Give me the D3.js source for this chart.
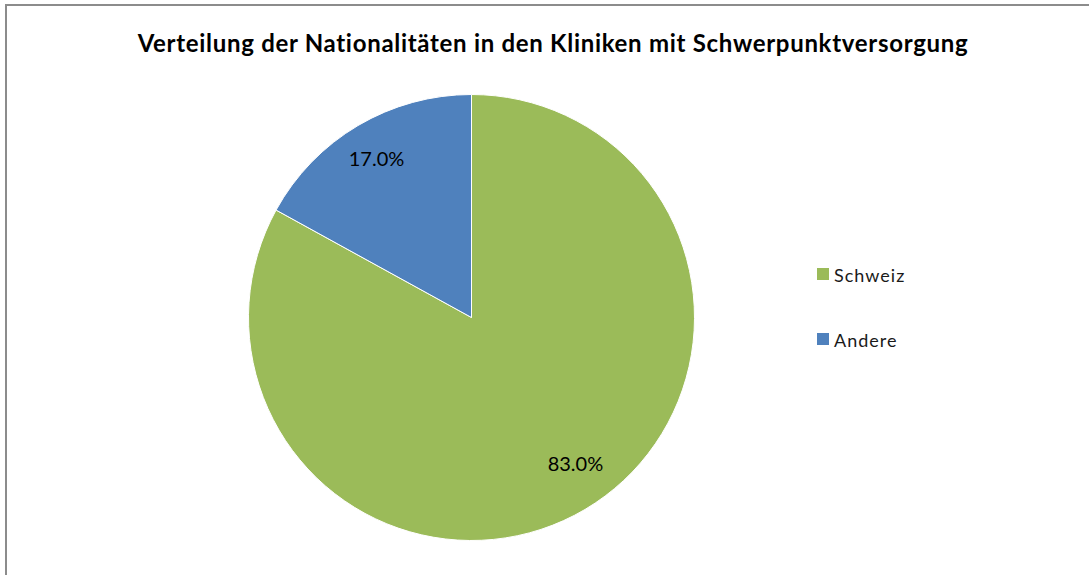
<!DOCTYPE html>
<html>
<head>
<meta charset="utf-8">
<script src="https://cdn.jsdelivr.net/npm/d3@7"></script>
<style>
  html, body { margin: 0; padding: 0; background: #fff; }
  svg { display: block; }
</style>
</head>
<body>
<svg id="chart" width="1089" height="575"></svg>
<script>
// Anteil der Patienten nach Nationalität
const categories = ["Schweiz", "Andere"];
const shares = [83.0, 17.0];
const colors = ["#9BBB59", "#4F81BD"];
const title = "Verteilung der Nationalitäten in den Kliniken mit Schwerpunktversorgung";

const svg = d3.select("#chart");
const W = 1089, H = 575;
const font = "Lato, 'Open Sans', sans-serif";

// Rahmen des Diagrammbereichs
svg.append("rect")
  .attr("x", 6).attr("y", 5)
  .attr("width", W + 20).attr("height", H + 20)
  .attr("fill", "#fff")
  .attr("stroke", "#8c8c8c")
  .attr("stroke-width", 2);

// Titel
svg.append("text")
  .attr("x", 553).attr("y", 52)
  .attr("text-anchor", "middle")
  .attr("font-family", font)
  .attr("font-weight", "bold")
  .attr("font-size", 24)
  .attr("letter-spacing", 0.7)
  .attr("fill", "#000")
  .text(title);

// Kreisdiagramm
const cx = 471.5, cy = 317.5, R = 223;
const data = categories.map((c, i) => ({ name: c, value: shares[i], color: colors[i] }));
const pie = d3.pie().sort(null).value(d => d.value);
const arc = d3.arc().innerRadius(0).outerRadius(R);
const labelArc = d3.arc().innerRadius(R * 0.81).outerRadius(R * 0.81);
// feine Verschiebung der Beschriftungen (Platzierung "optimal")
const labelNudge = [[12, -10], [-3, -4]];
const fmt = d3.format(".1f");

const g = svg.append("g").attr("transform", `translate(${cx},${cy})`);
const arcs = pie(data);

g.selectAll("path.slice")
  .data(arcs)
  .join("path")
  .attr("class", "slice")
  .attr("d", arc)
  .attr("fill", d => d.data.color)
  .attr("stroke", "#fff")
  .attr("stroke-width", 1);

g.selectAll("text.label")
  .data(arcs)
  .join("text")
  .attr("class", "label")
  .attr("transform", (d, i) => {
    const [x, y] = labelArc.centroid(d);
    return `translate(${x + labelNudge[i][0]},${y + labelNudge[i][1]})`;
  })
  .attr("text-anchor", "middle")
  .attr("dominant-baseline", "central")
  .attr("font-family", font)
  .attr("font-size", 20)
  .attr("fill", "#000")
  .text(d => fmt(d.data.value) + "%");

// Legende
const legend = svg.append("g").attr("transform", "translate(817,268)");
const items = legend.selectAll("g.item")
  .data(data)
  .join("g")
  .attr("class", "item")
  .attr("transform", (d, i) => `translate(0,${i * 65})`);

items.append("rect")
  .attr("width", 12).attr("height", 12)
  .attr("fill", d => d.color);

items.append("text")
  .attr("x", 17).attr("y", 14)
  .attr("font-family", font)
  .attr("font-size", 18)
  .attr("letter-spacing", 1)
  .attr("fill", "#1a1a1a")
  .text(d => d.name);
</script>
</body>
</html>
